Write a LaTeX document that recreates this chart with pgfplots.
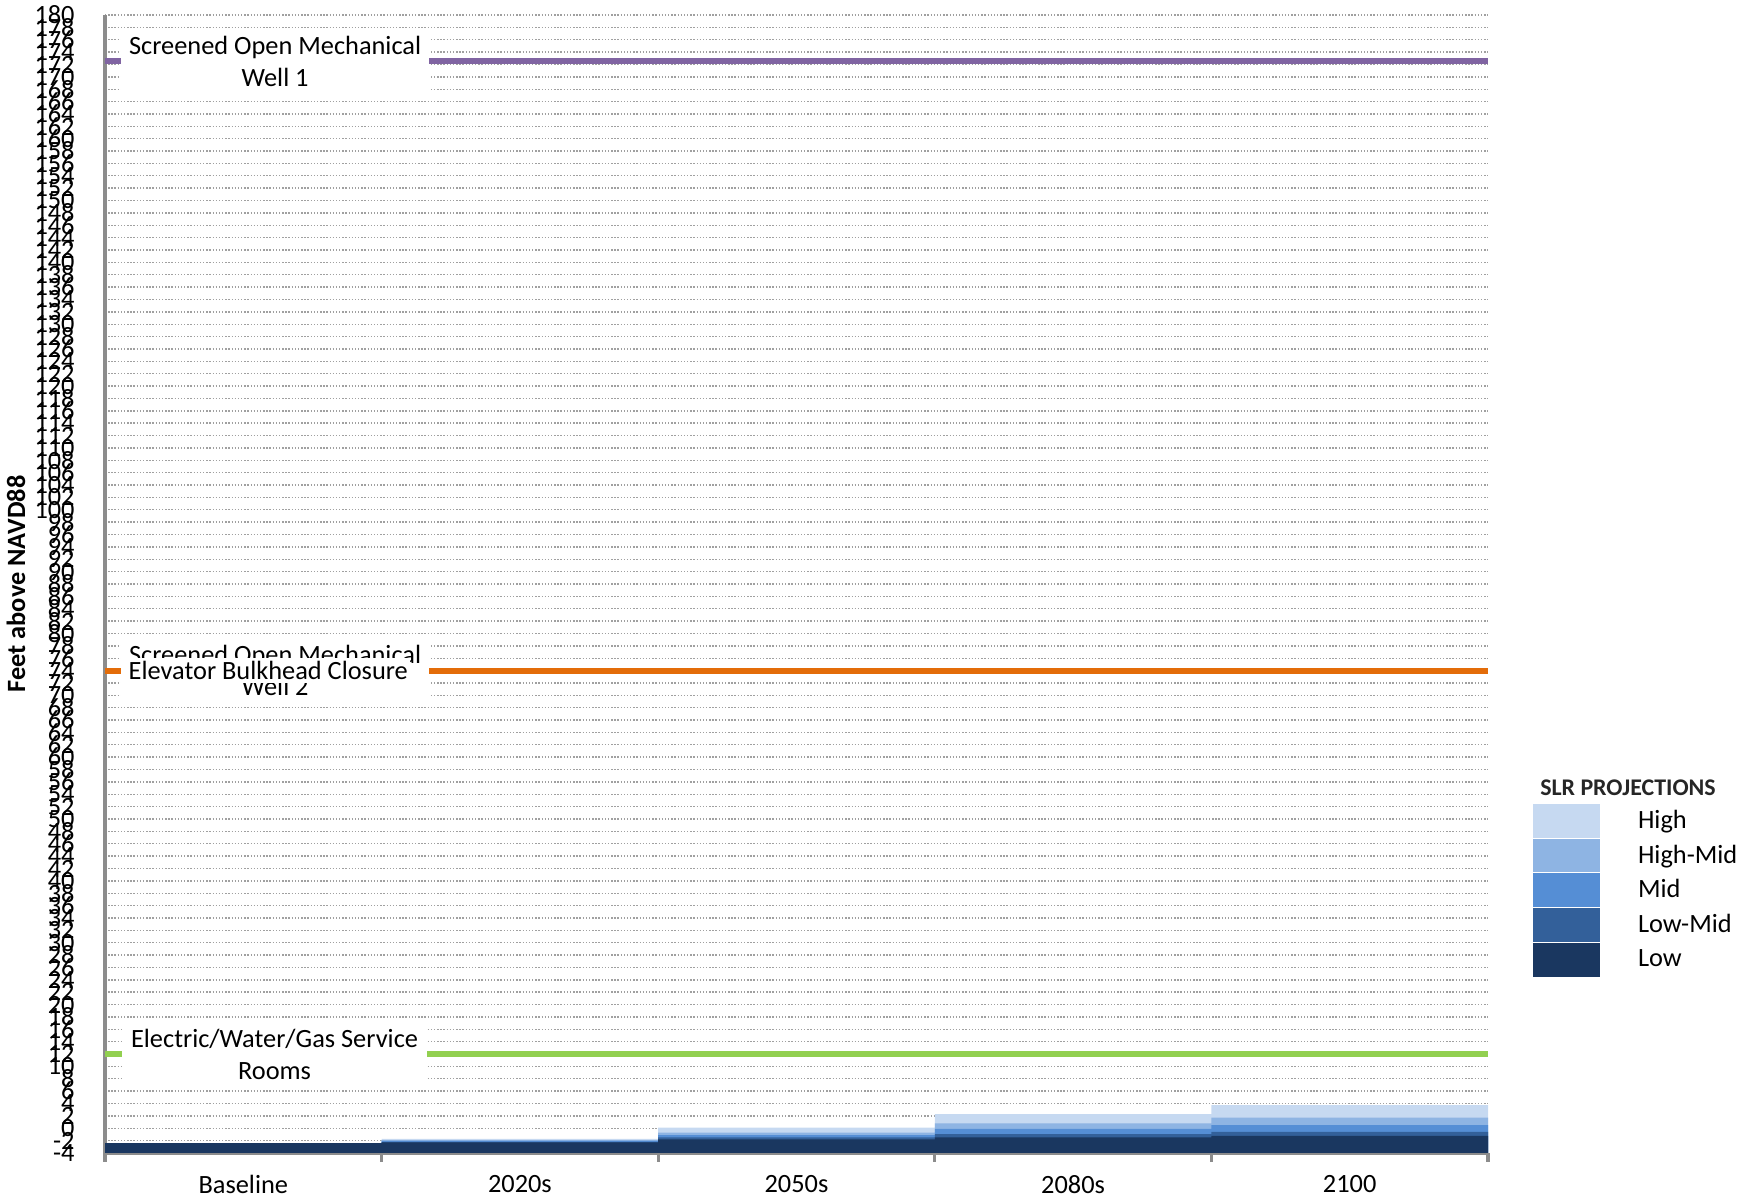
\documentclass[border=0pt]{standalone}
\usepackage{fontspec}
\setmainfont{Carlito}
\usepackage{pgfplots}
\pgfplotsset{compat=1.18}
\usepgfplotslibrary{fillbetween}
\usepackage{pgfplotstable}
\definecolor{cLow}{HTML}{1A3760}
\definecolor{cLowMid}{HTML}{33609A}
\definecolor{cMid}{HTML}{558ED5}
\definecolor{cHighMid}{HTML}{8EB4E3}
\definecolor{cHigh}{HTML}{C6D9F1}
\definecolor{cPurple}{HTML}{8064A2}
\definecolor{cOrange}{HTML}{E36C09}
\definecolor{cGreen}{HTML}{92D050}
\definecolor{axgray}{HTML}{8C8C8C}
\definecolor{gridgray}{HTML}{A0A0A0}
\newcommand\lf{\fontsize{7.5}{9.15}\selectfont}
\pgfplotsset{swatch/.style={legend image code/.code={\fill[##1] (0cm,-0.1685cm) rectangle (0.67cm,0.1685cm);}}}
% top of each SLR projection band (feet above NAVD88), per period:
% rows at the left edge of each period (Baseline, 2020s, 2050s, 2080s, 2100), last row closes the 2100 step
\pgfplotstableread{
x low lowmid mid highmid high
-0.5 -2.40 -2.40 -2.40 -2.40 -2.40
0.5 -2.30 -2.20 -2.05 -1.90 -1.70
1.5 -1.80 -1.47 -1.10 -0.72 0.09
2.5 -1.47 -0.93 -0.12 0.80 2.30
3.5 -1.25 -0.60 0.50 1.70 3.76
4.5 -1.25 -0.60 0.50 1.70 3.76
}\slrdata
\begin{document}
\begin{tikzpicture}
\begin{axis}[
  scale only axis, width=13.83cm, height=11.38cm,
  xmin=-0.5, xmax=4.5, ymin=-4, ymax=180,
  axis x line*=bottom, axis y line*=left,
  axis line style={draw=axgray, line width=0.9pt},
  xtick={0,1,2,3,4},
  xticklabels={Baseline,2020s,2050s,2080s,2100},
  minor xtick={-0.5,0.5,1.5,2.5,3.5,4.5},
  ytick={-4,-2,...,180},
  major tick length=0pt,
  minor tick length=0.09cm,
  tick align=outside,
  minor tick style={draw=axgray, line width=0.9pt},
  ymajorgrids,
  major grid style={draw=gridgray, line width=0.4pt, dash pattern=on 0.4pt off 0.5pt},
  /pgf/number format/assume math mode=true,
  ticklabel style={font=\lf},
  yticklabel style={xshift=-0.18cm},
  xticklabel style={yshift=-0.10cm},
  ylabel={\textbf{Feet above NAVD88}},
  ylabel style={at={(axis description cs:-0.0644,0.5)}, anchor=center, font=\lf, inner sep=0pt},
]
\addplot[draw=none, name path=bot] coordinates {(-0.5,-4) (4.5,-4)};
\addplot[draw=none, const plot, name path=pHigh] table[x=x, y=high] \slrdata;
\addplot[draw=none, const plot, name path=pHighMid] table[x=x, y=highmid] \slrdata;
\addplot[draw=none, const plot, name path=pMid] table[x=x, y=mid] \slrdata;
\addplot[draw=none, const plot, name path=pLowMid] table[x=x, y=lowmid] \slrdata;
\addplot[draw=none, const plot, name path=pLow] table[x=x, y=low] \slrdata;
\addplot[fill=cHigh, draw=none] fill between[of=pHigh and bot];
\addplot[fill=cHighMid, draw=none] fill between[of=pHighMid and bot];
\addplot[fill=cMid, draw=none] fill between[of=pMid and bot];
\addplot[fill=cLowMid, draw=none] fill between[of=pLowMid and bot];
\addplot[fill=cLow, draw=none] fill between[of=pLow and bot];
\end{axis}
\begin{axis}[
  scale only axis, width=13.83cm, height=11.38cm,
  xmin=-0.5, xmax=4.5, ymin=-4, ymax=180,
  hide axis,
  legend style={at={(1,0.3067)}, anchor=north west, xshift=0.45cm, draw=none, fill=none,
    inner sep=0pt, outer sep=0pt, row sep=0pt, column sep=0.31cm, font=\lf,
    nodes={inner ysep=0pt, minimum height=0.337cm, yshift=-0.3pt}},
  legend cell align=left,
]
\addlegendimage{fill=cHigh, draw=none, swatch}
\addlegendentry{High}
\addlegendimage{fill=cHighMid, draw=none, swatch}
\addlegendentry{High-Mid}
\addlegendimage{fill=cMid, draw=none, swatch}
\addlegendentry{Mid}
\addlegendimage{fill=cLowMid, draw=none, swatch}
\addlegendentry{Low-Mid}
\addlegendimage{fill=cLow, draw=none, swatch}
\addlegendentry{Low}
\addplot[draw=cPurple, line width=1.7pt] coordinates {(-0.5,172.5) (4.5,172.5)};
\addplot[draw=cOrange, line width=1.7pt] coordinates {(-0.5,74) (4.5,74)};
\addplot[draw=cGreen, line width=1.7pt] coordinates {(-0.5,12) (4.5,12)};
\node[fill=white, align=center, font=\lf, inner xsep=0.08cm, inner ysep=0.05cm] at (axis cs:0.115,172.5) {Screened Open Mechanical\\Well 1};
\node[fill=white, align=center, font=\lf, inner xsep=0.08cm, inner ysep=0.05cm] at (axis cs:0.115,74) {Screened Open Mechanical\\Well 2};
\node[fill=white, font=\lf, inner xsep=0.02cm, inner ysep=0.03cm, anchor=west] at (axis cs:-0.424,74) {Elevator Bulkhead Closure};
\node[fill=white, align=center, font=\lf, inner xsep=0.09cm, inner ysep=0.05cm] at (axis cs:0.113,12) {Electric/Water/Gas Service\\Rooms};
\end{axis}
\node[font=\bfseries\fontsize{6.8}{8}\selectfont, text=black!85] at (15.23cm,3.65cm) {SLR PROJECTIONS};
\pgfresetboundingbox
\path (-1.05cm,-0.51cm) rectangle (16.41cm,11.53cm);
\end{tikzpicture}
\end{document}
